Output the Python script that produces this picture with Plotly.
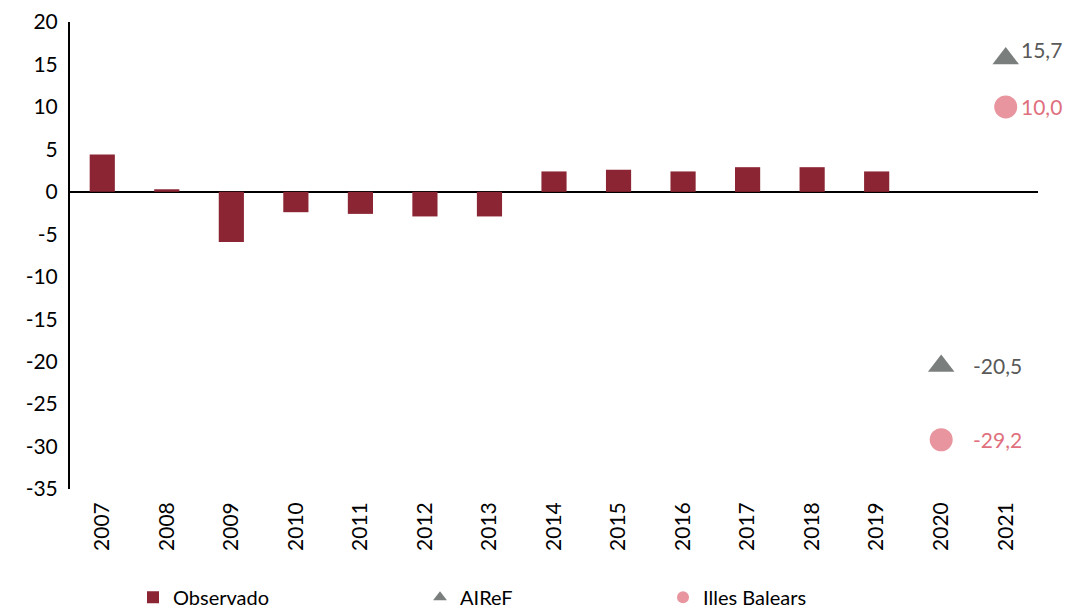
import plotly.graph_objects as go

years = [str(y) for y in range(2007, 2022)]
obs_years = years[:13]
observado = [4.4, 0.3, -5.9, -2.4, -2.6, -2.9, -2.9, 2.4, 2.6, 2.4, 2.9, 2.9, 2.4]
proj_years = ["2020", "2021"]
airef = [-20.5, 15.7]
illes = [-29.2, 10.0]
y_ticks = list(range(-35, 25, 5))
y_ticktext = [str(v) for v in y_ticks]

FONT = "Lato"
BAR_C = "#8B2533"
GRAY = "#7A7F7E"
GRAY_T = "#595959"
PINK = "#E8959F"
PINK_T = "#E0707E"

fig = go.Figure()
fig.add_trace(go.Bar(x=obs_years, y=observado, name="Observado",
                     marker=dict(color=BAR_C, line=dict(width=0)),
                     showlegend=True, legend="legend"))
fig.add_trace(go.Scatter(x=proj_years, y=airef, name="AIReF", mode="markers",
                         marker=dict(symbol="triangle-up", size=23, color=GRAY),
                         cliponaxis=False, showlegend=True, legend="legend2"))
fig.add_trace(go.Scatter(x=proj_years, y=illes, name="Illes Balears", mode="markers",
                         marker=dict(symbol="circle", size=23, color=PINK),
                         cliponaxis=False, showlegend=True, legend="legend3"))

xshift = {"2020": 30, "2021": 13}
ann = []
for yr, v in zip(proj_years, airef):
    ann.append(dict(x=years.index(yr), y=v, xref="x", yref="y",
                    text=f"{v:.1f}".replace(".", ","),
                    showarrow=False, xanchor="left", xshift=xshift[yr],
                    yshift=9 if v > 0 else 0,
                    font=dict(family=FONT, size=21, color=GRAY_T)))
for yr, v in zip(proj_years, illes):
    ann.append(dict(x=years.index(yr), y=v, xref="x", yref="y",
                    text=f"{v:.1f}".replace(".", ","),
                    showarrow=False, xanchor="left", xshift=xshift[yr],
                    font=dict(family=FONT, size=21, color=PINK_T)))

leg_common = dict(orientation="h", yanchor="middle", y=-0.232, xanchor="left",
                  font=dict(family=FONT, size=20, color="black"),
                  itemsizing="constant", itemwidth=30, bgcolor="rgba(0,0,0,0)")

fig.update_layout(
    width=1070, height=610,
    margin=dict(l=70, r=32, t=22, b=121, autoexpand=False),
    paper_bgcolor="white", plot_bgcolor="white",
    bargap=0.61,
    showlegend=True,
    font=dict(family=FONT, size=20, color="black"),
    annotations=ann,
    legend=dict(x=(133 - 70) / 968, **leg_common),
    legend2=dict(x=(420 - 70) / 968, **leg_common),
    legend3=dict(x=(663 - 70) / 968, **leg_common),
    xaxis=dict(type="category", categoryorder="array", categoryarray=years,
               tickangle=-90, showline=False, showgrid=False, ticks="",
               ticklabelstandoff=8,
               tickfont=dict(family=FONT, size=21, color="black"),
               range=[-0.5, 14.5]),
    yaxis=dict(range=[-35, 20], tickvals=y_ticks, ticktext=y_ticktext,
               showgrid=False, ticklabelstandoff=6,
               showline=True, linecolor="black", linewidth=2, ticks="",
               zeroline=True, zerolinecolor="black", zerolinewidth=2,
               tickfont=dict(family=FONT, size=21, color="black")),
)

fig.write_html("out.html", config={"displayModeBar": False},
               post_script="document.body.style.margin='0';document.body.style.padding='0';")
